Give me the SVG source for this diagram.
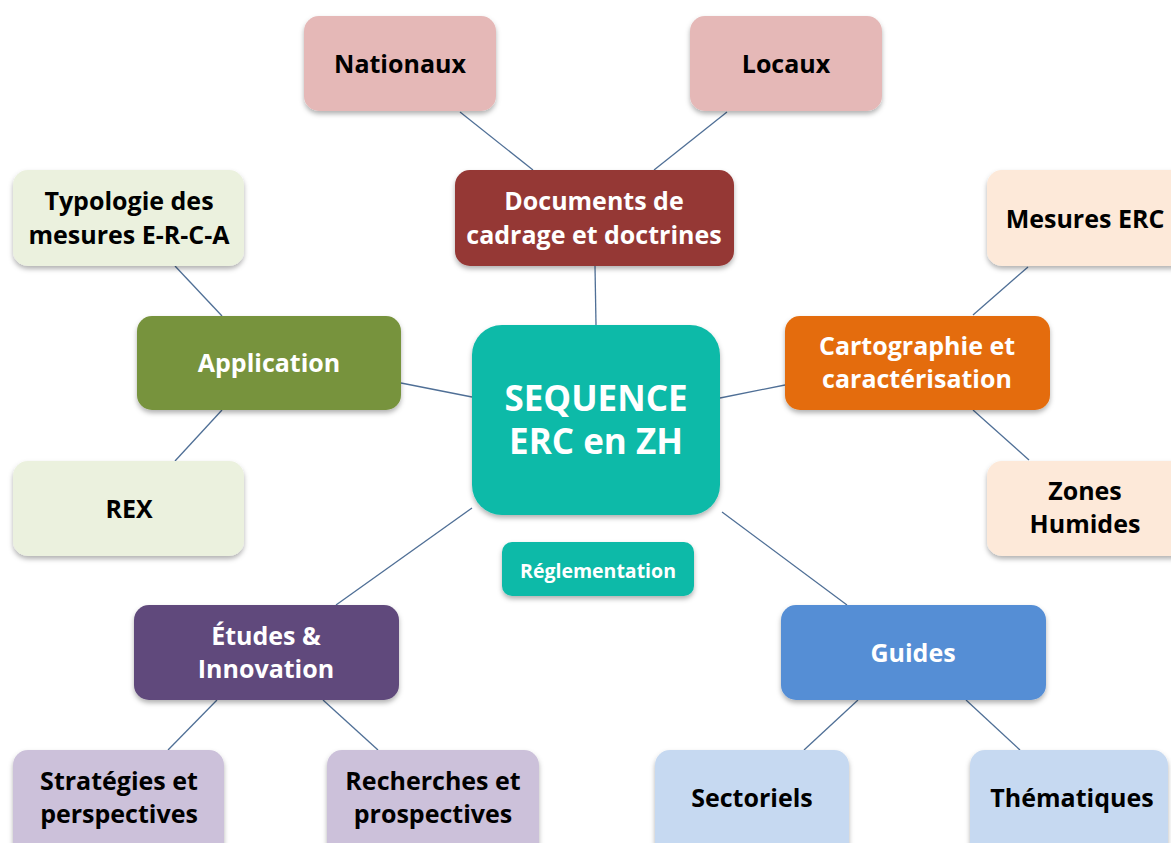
<svg xmlns="http://www.w3.org/2000/svg" width="1171" height="843" viewBox="0 0 1171 843">
<defs>
<filter id="sh" x="-10%" y="-10%" width="120%" height="130%">
<feDropShadow dx="0" dy="3" stdDeviation="2.5" flood-color="#000" flood-opacity="0.3"/>
</filter>
<style>
text{font-family:"Open Sans","Liberation Sans",sans-serif;font-weight:700;text-anchor:middle;dominant-baseline:central}
.dk{fill:#000;font-size:25px}
.wt{fill:#fff;font-size:25px}
.box{filter:url(#sh)}
.ln{stroke:#4f6f96;stroke-width:1.3;fill:none}
</style>
</defs>
<rect width="1171" height="843" fill="#fff"/>
<g id="connectors">
<line class="ln" x1="460" y1="112" x2="533" y2="170"/>
<line class="ln" x1="727" y1="112" x2="654" y2="170"/>
<line class="ln" x1="595" y1="266" x2="596" y2="325"/>
<line class="ln" x1="175" y1="266" x2="222" y2="316"/>
<line class="ln" x1="401" y1="383" x2="472" y2="397"/>
<line class="ln" x1="222" y1="410" x2="175" y2="461"/>
<line class="ln" x1="720" y1="398" x2="785" y2="385"/>
<line class="ln" x1="1028" y1="267" x2="973" y2="315"/>
<line class="ln" x1="973" y1="410" x2="1029" y2="460"/>
<line class="ln" x1="472" y1="508" x2="336" y2="605"/>
<line class="ln" x1="722" y1="512" x2="847" y2="605"/>
<line class="ln" x1="217" y1="700" x2="168" y2="750"/>
<line class="ln" x1="323" y1="700" x2="378" y2="750"/>
<line class="ln" x1="858" y1="700" x2="804" y2="750"/>
<line class="ln" x1="966" y1="700" x2="1020" y2="750"/>
</g>
<g id="nationaux"><rect class="box" x="304" y="16" width="192" height="95" rx="15" fill="#e5b8b7"/><text class="dk" x="400" y="63">Nationaux</text></g>
<g id="locaux"><rect class="box" x="690" y="16" width="192" height="95" rx="15" fill="#e5b8b7"/><text class="dk" x="786" y="63">Locaux</text></g>
<g id="documents"><rect class="box" x="455" y="170" width="279" height="96" rx="15" fill="#953735"/><text class="wt" x="594" y="200">Documents de</text><text class="wt" x="594" y="234">cadrage et doctrines</text></g>
<g id="typologie"><rect class="box" x="13" y="170" width="231" height="96" rx="15" fill="#ebf1de"/><text class="dk" x="129" y="200">Typologie des</text><text class="dk" x="129" y="234">mesures E-R-C-A</text></g>
<g id="mesures"><rect class="box" x="987" y="170" width="200" height="96" rx="15" fill="#fde9d9"/><text class="dk" x="1085" y="218">Mesures ERC</text></g>
<g id="application"><rect class="box" x="137" y="316" width="264" height="94" rx="15" fill="#77933c"/><text class="wt" x="269" y="362">Application</text></g>
<g id="centre"><rect class="box" x="472" y="325" width="248" height="190" rx="30" fill="#0fbaa8"/><text fill="#fff" style="font-size:35px" x="596" y="397">SEQUENCE</text><text fill="#fff" style="font-size:35px" x="596" y="440">ERC en ZH</text></g>
<g id="cartographie"><rect class="box" x="785" y="316" width="265" height="94" rx="15" fill="#e46c0a"/><text class="wt" x="917" y="345">Cartographie et</text><text class="wt" x="917" y="378">caractérisation</text></g>
<g id="rex"><rect class="box" x="13" y="461" width="231" height="95" rx="15" fill="#ebf1de"/><text class="dk" x="129" y="508">REX</text></g>
<g id="zones"><rect class="box" x="987" y="461" width="200" height="95" rx="15" fill="#fde9d9"/><text class="dk" x="1085" y="490">Zones</text><text class="dk" x="1085" y="523">Humides</text></g>
<g id="reglementation"><rect class="box" x="502" y="542" width="192" height="54" rx="10" fill="#0fbaa8"/><text fill="#fff" style="font-size:19.5px" x="598" y="570">Réglementation</text></g>
<g id="etudes"><rect class="box" x="134" y="605" width="265" height="95" rx="15" fill="#604a7b"/><text class="wt" x="266" y="635">Études &amp;</text><text class="wt" x="266" y="668">Innovation</text></g>
<g id="guides"><rect class="box" x="781" y="605" width="265" height="95" rx="15" fill="#558ed5"/><text class="wt" x="913" y="652">Guides</text></g>
<g id="strategies"><rect class="box" x="13" y="750" width="211" height="110" rx="15" fill="#ccc1da"/><text class="dk" x="119" y="780">Stratégies et</text><text class="dk" x="119" y="813">perspectives</text></g>
<g id="recherches"><rect class="box" x="327" y="750" width="212" height="110" rx="15" fill="#ccc1da"/><text class="dk" x="433" y="780">Recherches et</text><text class="dk" x="433" y="813">prospectives</text></g>
<g id="sectoriels"><rect class="box" x="655" y="750" width="194" height="110" rx="15" fill="#c6d9f1"/><text class="dk" x="752" y="797">Sectoriels</text></g>
<g id="thematiques"><rect class="box" x="970" y="750" width="198" height="110" rx="15" fill="#c6d9f1"/><text class="dk" x="1072" y="797">Thématiques</text></g>
</svg>
